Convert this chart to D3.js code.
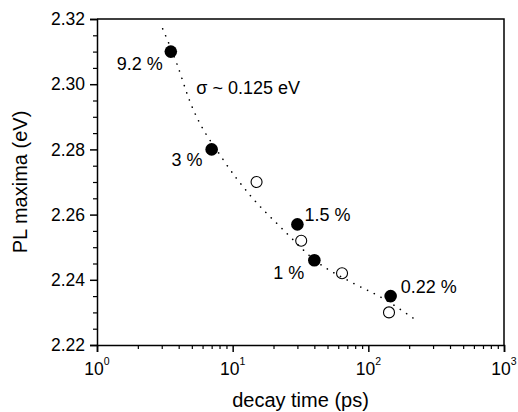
<!DOCTYPE html>
<html>
<head>
<meta charset="utf-8">
<script src="https://cdn.jsdelivr.net/npm/d3@7"></script>
<style>
    body { margin: 0; background: #fff; }
    text { font-family: "Liberation Sans", Arial, sans-serif; fill: #000; }
</style>
</head>
<body>
<div id="graph"></div>
<script>
// filled points (with doping labels)
var filledX = [3.5, 7.0, 30, 40, 146]
var filledY = [2.310, 2.280, 2.257, 2.246, 2.235]
var filledLabels = ["9.2 %", "3 %", "1.5 %", "1 %", "0.22 %"]

// open points
var openX = [15, 32, 64, 142]
var openY = [2.270, 2.252, 2.242, 2.230]

// dotted fit curve
var fitX = [3.05, 3.87, 4.79, 8.63, 13.4, 23.4, 40.4, 77, 122, 213]
var fitY = [2.317, 2.3064, 2.2952, 2.2765, 2.266, 2.2555, 2.246, 2.239, 2.2348, 2.2283]

var xTicks = [1, 10, 100, 1000]
var yTicks = [2.22, 2.24, 2.26, 2.28, 2.30, 2.32]

var margin = { top: 19, right: 14, bottom: 67, left: 97 };
var width = 518 - margin.left - margin.right,
    height = 412 - margin.top - margin.bottom;

var x = d3.scaleLog().domain([1, 1000]).range([0, width])
var y = d3.scaleLinear().domain([2.22, 2.32]).range([height, 0])

var svg = d3.select("#graph").append("svg")
    .attr("width", width + margin.left + margin.right)
    .attr("height", height + margin.top + margin.bottom)
    .append("g")
    .attr("transform", "translate(" + margin.left + "," + margin.top + ")");

// frame (top and right)
svg.append("path")
    .attr("d", "M0,0H" + width + "V" + height)
    .attr("fill", "none")
    .attr("stroke", "#000")
    .attr("stroke-width", 1.5)

// x axis
var xMinor = []
for (var dec = 1; dec < 1000; dec *= 10) {
    for (var k = 2; k <= 9; k++) xMinor.push(dec * k)
}
var xAxis = svg.append("g")
    .attr("transform", "translate(0," + height + ")")
    .call(d3.axisBottom(x).tickValues(xTicks).tickSize(7).tickFormat(""))
xAxis.select(".domain").attr("stroke-width", 1.5)
xAxis.selectAll(".tick line").attr("stroke-width", 1.5)
svg.append("g")
    .attr("transform", "translate(0," + height + ")")
    .call(d3.axisBottom(x).tickValues(xMinor).tickSize(4).tickFormat(""))
    .call(g => g.select(".domain").remove())
    .selectAll(".tick line").attr("stroke-width", 1.2)

// x tick labels as 10^n
var xl = svg.append("g").selectAll("text")
    .data(xTicks)
    .enter()
    .append("text")
    .attr("x", function (d) { return x(d) })
    .attr("y", height + 30)
    .attr("text-anchor", "middle")
    .style("font-size", "17.5px")
xl.append("tspan").text("10")
xl.append("tspan")
    .attr("dy", -10)
    .style("font-size", "10.5px")
    .text(function (d) { return Math.round(Math.log10(d)) })

// y axis
var yMinor = d3.range(2.22, 2.3201, 0.005).filter(function (v) {
    return Math.abs(Math.round(v * 50) - v * 50) > 1e-6
})
var yAxis = svg.append("g")
    .call(d3.axisLeft(y).tickValues(yTicks).tickSize(7).tickPadding(5).tickFormat(d3.format(".2f")))
yAxis.select(".domain").attr("stroke-width", 1.5)
yAxis.selectAll(".tick line").attr("stroke-width", 1.5)
yAxis.selectAll("text")
    .style("font-size", "17.5px")
    .style("font-family", '"Liberation Sans", Arial, sans-serif')
svg.append("g")
    .call(d3.axisLeft(y).tickValues(yMinor).tickSize(4).tickFormat(""))
    .call(g => g.select(".domain").remove())
    .selectAll(".tick line").attr("stroke-width", 1.2)

// axis titles
svg.append("text")
    .attr("x", width / 2)
    .attr("y", height + 62)
    .attr("text-anchor", "middle")
    .style("font-size", "20px")
    .text("decay time (ps)")

svg.append("text")
    .attr("transform", "translate(" + (27 - margin.left) + "," + (height / 2) + ") rotate(-90)")
    .attr("text-anchor", "middle")
    .style("font-size", "20px")
    .text("PL maxima (eV)")

// fit curve
var fitData = fitX.map(function (d, i) { return { x: d, y: fitY[i] } })
var line = d3.line()
    .x(function (d) { return x(d.x) })
    .y(function (d) { return y(d.y) })
    .curve(d3.curveMonotoneX)
svg.append("path")
    .datum(fitData)
    .attr("d", line)
    .attr("fill", "none")
    .attr("stroke", "#000")
    .attr("stroke-width", 1.6)
    .attr("stroke-linecap", "round")
    .attr("stroke-dasharray", "0.1 7.5")

// open circles
svg.append("g").selectAll("circle")
    .data(openX)
    .enter()
    .append("circle")
    .attr("cx", function (d) { return x(d) })
    .attr("cy", function (d, i) { return y(openY[i]) })
    .attr("r", 5.5)
    .attr("fill", "none")
    .attr("stroke", "#000")
    .attr("stroke-width", 1.1)

// filled circles
svg.append("g").selectAll("circle")
    .data(filledX)
    .enter()
    .append("circle")
    .attr("cx", function (d) { return x(d) })
    .attr("cy", function (d, i) { return y(filledY[i]) })
    .attr("r", 6.3)
    .attr("fill", "#000")

// label offsets relative to each filled point
var labelOffsets = [
    { dx: -8, dy: 18, anchor: "end" },
    { dx: -9, dy: 17, anchor: "end" },
    { dx: 7, dy: -3, anchor: "start" },
    { dx: -10, dy: 19, anchor: "end" },
    { dx: 10, dy: -3, anchor: "start" }
]
svg.append("g").selectAll("text")
    .data(filledLabels)
    .enter()
    .append("text")
    .attr("x", function (d, i) { return x(filledX[i]) + labelOffsets[i].dx })
    .attr("y", function (d, i) { return y(filledY[i]) + labelOffsets[i].dy })
    .attr("text-anchor", function (d, i) { return labelOffsets[i].anchor })
    .style("font-size", "18px")
    .text(function (d) { return d })

svg.append("text")
    .attr("x", x(5.4))
    .attr("y", y(2.297))
    .style("font-size", "18px")
    .text("σ ~ 0.125 eV")
</script>
</body>
</html>
